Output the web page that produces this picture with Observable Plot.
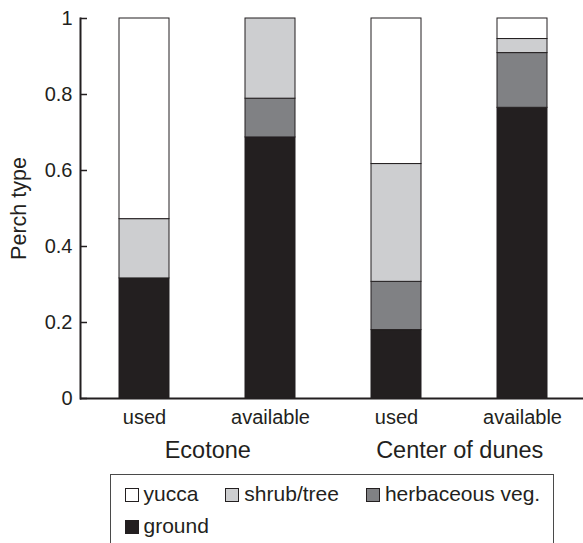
<!DOCTYPE html>
<html><head><meta charset="utf-8">
<script src="https://cdn.jsdelivr.net/npm/d3@7"></script>
<script src="https://cdn.jsdelivr.net/npm/@observablehq/plot@0.6"></script>
<style>
body{margin:0;background:#fff;font-family:"Liberation Sans",Arial,sans-serif;color:#231f20}
#wrap{position:relative;width:583px;height:543px;overflow:hidden}
#legend{position:absolute;left:110px;top:474px;width:444px;height:100px;border:1.5px solid #4a4a4a;box-sizing:border-box;padding:7.5px 0 0 13.5px;display:flex;flex-wrap:wrap;column-gap:27px;row-gap:10px;font-size:21px;align-content:flex-start}
.item{display:flex;align-items:center;line-height:22px;height:22px;white-space:nowrap}
.sw{width:12px;height:12px;border:1px solid #231f20;margin-right:5px;margin-top:2px}
</style></head>
<body><div id="wrap"><div id="chart"></div><div id="legend"></div></div>
<script>
// Data
const sites = ["Ecotone", "Ecotone", "Center of dunes", "Center of dunes"];
const uses = ["used", "available", "used", "available"];
const types = ["ground", "herbaceous veg.", "shrub/tree", "yucca"];
const ground = [0.316, 0.687, 0.180, 0.765];
const herbaceous = [0, 0.102, 0.127, 0.144];
const shrub = [0.156, 0.211, 0.310, 0.037];
const yucca = [0.528, 0, 0.383, 0.054];
const yTicks = [0, 0.2, 0.4, 0.6, 0.8, 1];
const yTickLabels = ["0", "0.2", "0.4", "0.6", "0.8", "1"];
const groupNames = ["Ecotone", "Center of dunes"];
const legendOrder = ["yucca", "shrub/tree", "herbaceous veg.", "ground"];
const yLabel = "Perch type";

const colors = ["#231f20", "#808184", "#cdced0", "#ffffff"];
const ink = "#231f20";

const keys = sites.map((s, i) => s + "|" + uses[i]);
const series = [ground, herbaceous, shrub, yucca];
const rows = [];
keys.forEach((k, i) => {
  types.forEach((t, j) => {
    if (series[j][i] > 0) rows.push({key: k, type: t, value: series[j][i]});
  });
});

const W = 583, mL = 80, mR = -3;
const step = (W - mL - mR) / keys.length;
const groupFirstKey = groupNames.map(g => keys[sites.indexOf(g)]);

const chart = Plot.plot({
  width: W, height: 470,
  marginLeft: mL, marginRight: mR, marginTop: 18, marginBottom: 72,
  style: {fontFamily: "'Liberation Sans', Arial, sans-serif", color: ink, background: "transparent"},
  x: {domain: keys, paddingInner: 0.605, paddingOuter: 0.3025, axis: null},
  y: {domain: [0, 1], axis: null},
  color: {domain: types, range: colors},
  marks: [
    Plot.barY(rows, {x: "key", y: "value", fill: "type", stroke: ink, strokeWidth: 1}),
    Plot.axisX({tickSize: 0, tickPadding: 11, fontSize: 20, tickFormat: k => k.split("|")[1], label: null}),
    Plot.axisY({ticks: yTicks, tickSize: -7, strokeWidth: 1.5, tickFormat: () => "", label: null}),
    Plot.text(yTicks, {y: d => d, text: (d, i) => yTickLabels[i], frameAnchor: "left", textAnchor: "end", lineAnchor: "middle", dx: -8, fontSize: 20, fill: ink}),
    Plot.frame({anchor: "left", strokeWidth: 2, stroke: ink}),
    Plot.ruleY([0], {strokeWidth: 2, stroke: ink}),
    Plot.text(groupNames, {x: (d, i) => groupFirstKey[i], text: d => d, dx: step / 2, frameAnchor: "bottom", lineAnchor: "bottom", dy: 59, fontSize: 23.5, fill: ink}),
    Plot.text([yLabel], {text: d => d, frameAnchor: "left", textAnchor: "middle", rotate: -90, dx: -55, lineAnchor: "bottom", fontSize: 21.5, fill: ink})
  ]
});
document.getElementById("chart").appendChild(chart);

const legend = document.getElementById("legend");
legendOrder.forEach(t => {
  const it = document.createElement("div");
  it.className = "item";
  const sw = document.createElement("span");
  sw.className = "sw";
  sw.style.background = colors[types.indexOf(t)];
  it.appendChild(sw);
  it.appendChild(document.createTextNode(t));
  legend.appendChild(it);
});
</script>
</body></html>
